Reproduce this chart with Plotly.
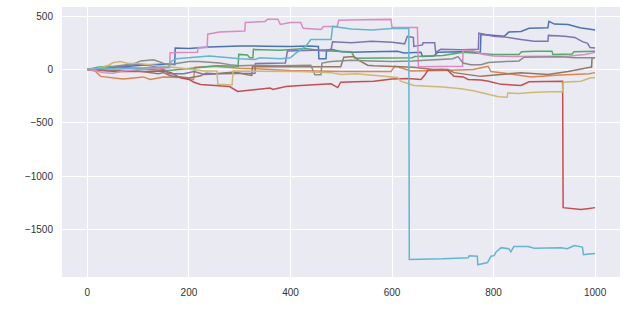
import plotly.graph_objects as go

# Series (step index -> value)
blue_x = [0, 40, 80, 120, 160, 172, 173, 200, 240, 300, 350, 400, 434, 455, 456, 470, 471, 480, 500, 520, 560, 611, 623, 657, 660, 682, 690, 736, 774, 775, 821, 830, 854, 870, 907, 909, 920, 947, 970, 1000]
blue_y = [0, 15, 30, 45, 50, 45, 200, 195, 210, 220, 218, 215, 220, 215, 100, 100, 180, 188, 165, 160, 165, 170, 155, 160, 122, 125, 160, 165, 160, 328, 310, 350, 356, 385, 390, 450, 425, 420, 390, 370]

orange_x = [0, 15, 26, 51, 70, 91, 110, 124, 150, 183, 200, 209, 212, 223, 249, 300, 341, 400, 450, 499, 598, 605, 611, 637, 700, 736, 760, 789, 795, 830, 874, 923, 960, 988, 1000]
orange_y = [0, -15, -65, -80, -90, -80, -70, -94, -70, -75, -90, -94, 20, 25, 30, 10, 5, -10, -15, -20, -20, 30, 25, -15, -10, 0, 0, 30, -20, -40, -70, -55, -50, -40, -30]

green_x = [0, 20, 40, 60, 100, 120, 160, 200, 230, 256, 297, 298, 315, 320, 326, 327, 380, 430, 460, 520, 527, 600, 640, 645, 700, 740, 800, 850, 855, 880, 915, 917, 955, 958, 1000]
green_y = [0, 20, 30, 20, 10, 0, -10, 10, 25, 35, 30, 141, 135, 110, 110, 188, 180, 197, 175, 165, 105, 105, 110, 122, 130, 160, 140, 140, 165, 170, 170, 140, 145, 165, 170]

red_x = [0, 20, 40, 60, 80, 100, 120, 150, 165, 178, 185, 200, 210, 223, 249, 280, 296, 308, 341, 360, 365, 380, 391, 420, 450, 480, 493, 499, 530, 564, 600, 631, 657, 665, 671, 700, 710, 722, 740, 750, 775, 790, 815, 840, 854, 870, 907, 936, 937, 950, 972, 985, 1000]
red_y = [0, -10, -15, -20, -20, -25, -20, -15, -30, -65, -80, -94, -120, -141, -150, -160, -206, -200, -188, -175, -188, -170, -160, -150, -145, -135, -170, -120, -115, -110, -90, -85, -94, -50, -5, 0, -10, -65, -70, -94, -100, -110, -140, -150, -150, -115, -110, -110, -1295, -1300, -1313, -1305, -1295]

purple_x = [0, 40, 80, 100, 130, 150, 160, 190, 210, 230, 260, 300, 330, 331, 370, 390, 394, 440, 480, 483, 520, 560, 600, 625, 630, 642, 643, 660, 661, 684, 686, 696, 736, 770, 771, 800, 821, 854, 880, 907, 908, 940, 960, 975, 985, 990, 1000]
purple_y = [0, 10, 40, 50, 30, 0, -40, -40, -20, -47, -40, -40, -35, 55, 60, 60, 172, 180, 185, 260, 250, 263, 255, 240, 310, 300, 216, 230, 250, 250, 160, 188, 185, 190, 340, 310, 305, 281, 263, 263, 319, 310, 300, 260, 244, 206, 200]

brown_x = [0, 30, 60, 100, 140, 150, 163, 183, 200, 223, 233, 252, 275, 290, 315, 324, 325, 370, 420, 470, 499, 505, 525, 533, 552, 564, 600, 643, 680, 710, 722, 775, 815, 854, 907, 947, 990, 993, 994, 1000]
brown_y = [0, -5, -10, -15, -40, -30, -60, -70, -80, -60, -35, -40, -30, -25, -50, -55, 25, 25, 28, 25, 25, 115, 120, 90, 40, 35, 25, 20, 0, 0, -30, -65, -47, -30, -47, -20, 20, 20, 110, 110]

pink_x = [0, 15, 30, 50, 70, 100, 130, 162, 163, 217, 218, 236, 237, 260, 300, 310, 311, 330, 350, 355, 375, 380, 400, 420, 425, 460, 465, 492, 495, 540, 598, 600, 650, 652, 700, 739, 740, 760, 780, 800, 850, 900, 950, 980, 1000]
pink_y = [0, -10, -30, -35, -15, 0, 10, 15, 156, 160, 206, 206, 330, 350, 360, 360, 440, 445, 450, 470, 470, 422, 440, 440, 385, 375, 403, 403, 460, 465, 469, 394, 394, 25, 25, 30, 180, 175, 140, 125, 120, 125, 125, 140, 160]

gray_x = [0, 30, 60, 90, 105, 130, 140, 150, 160, 180, 200, 220, 240, 260, 280, 300, 330, 380, 440, 448, 460, 462, 480, 520, 560, 600, 640, 680, 720, 730, 740, 755, 775, 790, 830, 850, 860, 900, 933, 960, 1000]
gray_y = [0, 15, 30, 50, 80, 90, 75, 55, 45, 60, 75, 75, 70, 60, 45, 35, 40, 35, 40, -50, -50, 60, 75, 85, 80, 75, 80, 90, 100, 120, 60, 45, 45, 65, 75, 80, 115, 120, 118, 110, 110]

olive_x = [0, 20, 40, 50, 65, 80, 100, 120, 150, 170, 200, 230, 255, 257, 285, 287, 340, 420, 480, 499, 530, 564, 590, 611, 617, 643, 700, 736, 760, 789, 810, 827, 828, 850, 874, 910, 936, 937, 960, 972, 990, 1000]
olive_y = [0, 10, 35, 62, 75, 55, 55, 45, 35, 20, 5, -15, -15, -140, -145, -15, -15, -20, -30, -47, -40, -55, -70, -75, -110, -150, -165, -180, -200, -230, -255, -260, -220, -225, -215, -210, -210, -120, -115, -110, -80, -75]

cyan_x = [0, 30, 60, 100, 140, 160, 165, 175, 200, 240, 280, 300, 330, 340, 380, 400, 410, 430, 440, 480, 483, 520, 560, 600, 633, 634, 700, 750, 752, 768, 769, 788, 795, 801, 805, 815, 830, 834, 840, 868, 880, 933, 945, 959, 975, 977, 1000]
cyan_y = [0, 10, 5, 15, 20, 20, 75, 100, 110, 125, 110, 100, 94, 110, 100, 110, 150, 216, 281, 281, 403, 380, 370, 384, 384, -1780, -1775, -1765, -1745, -1750, -1830, -1810, -1750, -1745, -1710, -1670, -1680, -1710, -1660, -1660, -1675, -1670, -1680, -1650, -1665, -1735, -1725]

series = [
    (blue_x, blue_y, "#4C72B0"),
    (orange_x, orange_y, "#DD8452"),
    (green_x, green_y, "#55A868"),
    (red_x, red_y, "#C44E52"),
    (purple_x, purple_y, "#8172B3"),
    (brown_x, brown_y, "#937860"),
    (pink_x, pink_y, "#DA8BC3"),
    (gray_x, gray_y, "#8C8C8C"),
    (olive_x, olive_y, "#CCB974"),
    (cyan_x, cyan_y, "#64B5CD"),
]

x_ticks = [0, 200, 400, 600, 800, 1000]
y_ticks = [-1500, -1000, -500, 0, 500]

fig = go.Figure()
for xs, ys, col in series:
    fig.add_trace(go.Scatter(x=xs, y=ys, mode="lines",
                             line=dict(color=col, width=1.5),
                             showlegend=False, hoverinfo="skip"))

axis_common = dict(showgrid=True, gridcolor="white", gridwidth=1,
                   zeroline=False, showline=False, ticks="",
                   tickfont=dict(family="Liberation Sans, Arial, sans-serif",
                                 size=10, color="#333333"))

fig.update_layout(
    width=626, height=319,
    margin=dict(l=62, r=6, t=7, b=42),
    paper_bgcolor="white", plot_bgcolor="#EAEAF2",
    xaxis=dict(range=[-50, 1049], tickvals=x_ticks, ticklabelstandoff=8, **axis_common),
    yaxis=dict(range=[-1945, 585], tickvals=y_ticks, ticklabelstandoff=8, **axis_common),
)

fig.write_html("out.html", config={"displayModeBar": False},
               post_script="document.body.style.margin='0';document.body.style.overflow='hidden';")
